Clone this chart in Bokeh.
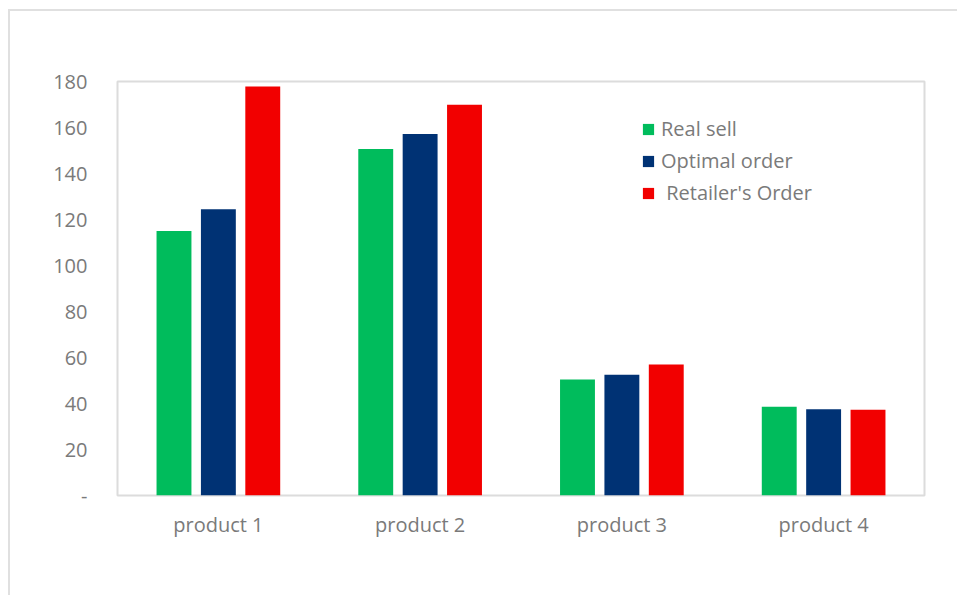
from bokeh.plotting import figure
from bokeh.models import FactorRange, Range1d, FixedTicker, Legend, LegendItem
from bokeh.transform import dodge
from bokeh.embed import file_html
from bokeh.resources import INLINE
from bokeh.models import ColumnDataSource

products = ["product 1", "product 2", "product 3", "product 4"]
real_sell = [115, 150.7, 50.4, 38.6]
optimal_order = [124.5, 157.2, 52.5, 37.5]
retailer_order = [177.8, 169.9, 57.0, 37.3]
series_names = ["Real sell", "Optimal order", " Retailer's Order"]
y_ticks = [0, 20, 40, 60, 80, 100, 120, 140, 160, 180]

colors = ["#00BC5C", "#003274", "#F20000"]
text_color = "#7a7a7a"
font = "Open Sans"

src = ColumnDataSource(dict(x=products, a=real_sell, b=optimal_order, c=retailer_order))

p = figure(x_range=FactorRange(*products, range_padding=0), y_range=Range1d(0, 180),
           width=949, height=586, output_backend="svg", toolbar_location=None,
           min_border_left=107, min_border_right=35, min_border_top=70, min_border_bottom=102)
p.styles = {"margin-left": "8px", "margin-top": "9px",
            "border-left": "2px solid #e0e0e0", "border-top": "2px solid #e0e0e0"}

renderers = []
for col, off, c in zip(["a", "b", "c"], [-0.22, 0.0, 0.22], colors):
    r = p.vbar(x=dodge("x", off, range=p.x_range), top=col, width=0.173, source=src,
               fill_color=c, line_color=None)
    renderers.append(r)

p.xgrid.visible = False
p.ygrid.visible = False
p.outline_line_color = "#dcdcdc"
p.outline_line_width = 2

p.yaxis.ticker = FixedTicker(ticks=y_ticks)
p.yaxis.major_label_overrides = {0: "-"}
for ax in (p.xaxis[0], p.yaxis[0]):
    ax.axis_line_color = None
    ax.major_tick_line_color = None
    ax.minor_tick_line_color = None
    ax.major_label_text_font = font
    ax.major_label_text_font_size = "20px"
    ax.major_label_text_color = text_color
p.yaxis.major_label_standoff = 24
p.xaxis.major_label_standoff = 9

legend = Legend(items=[LegendItem(label=n, renderers=[r]) for n, r in zip(series_names, renderers)],
                location=(524, 289), orientation="vertical")
legend.border_line_color = None
legend.background_fill_alpha = 0
legend.padding = 0
legend.margin = 0
legend.glyph_width = 14
legend.glyph_height = 14
legend.label_height = 20
legend.spacing = 5
legend.label_standoff = 6
legend.label_text_font = font
legend.label_text_font_size = "20px"
legend.label_text_color = text_color
p.add_layout(legend, "center")

open("out.html", "w").write(file_html(p, INLINE))
